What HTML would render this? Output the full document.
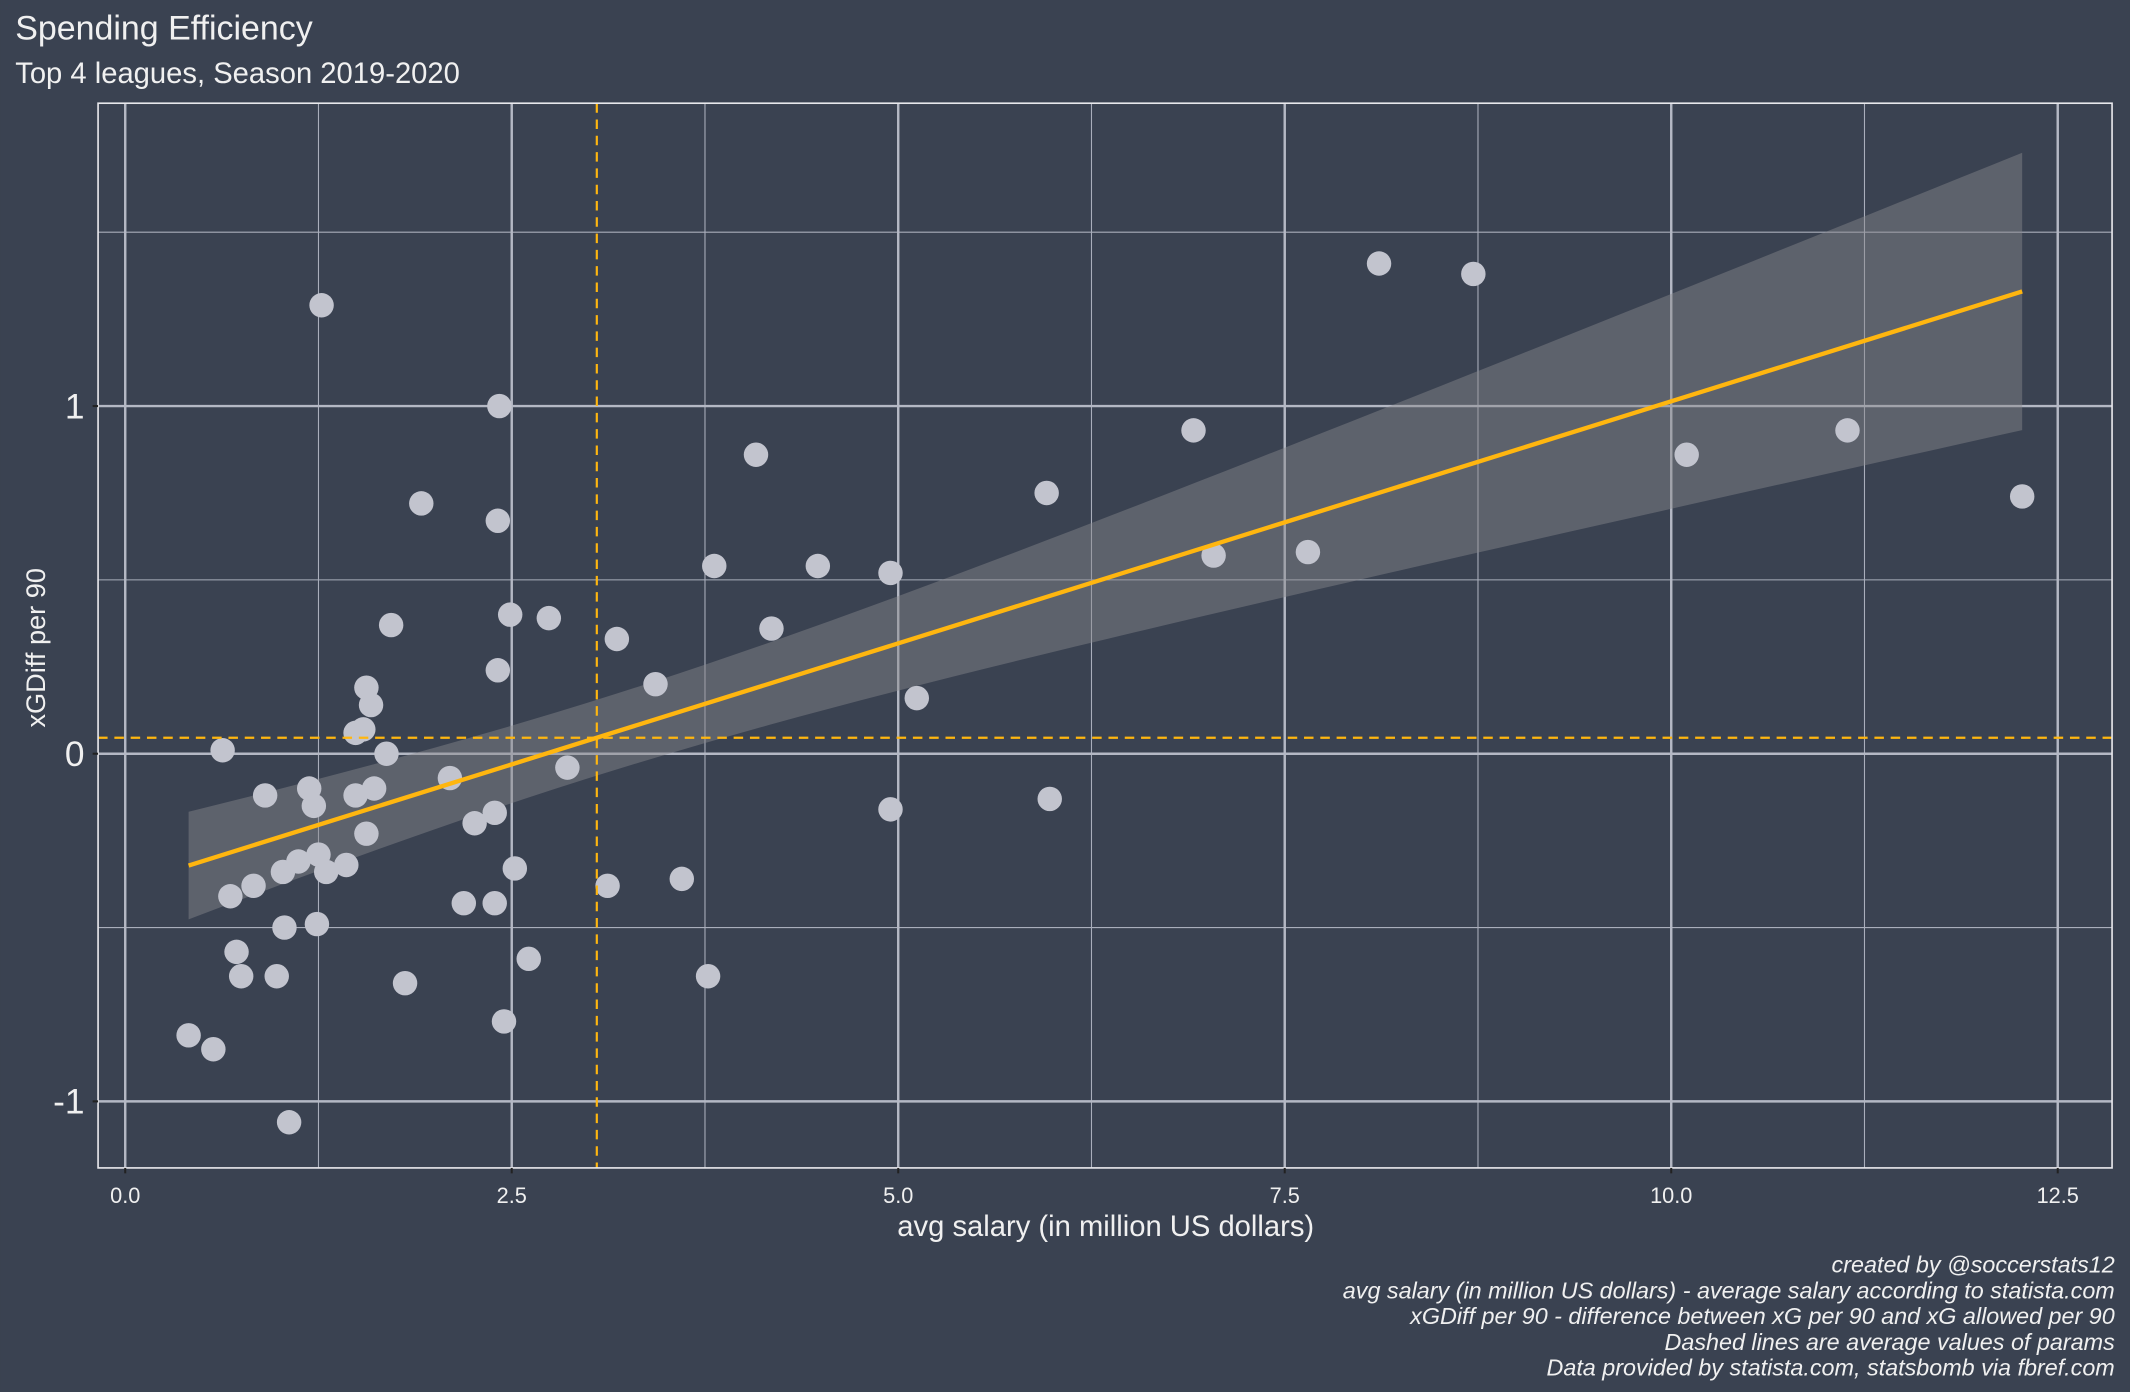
<!DOCTYPE html>
<html><head><meta charset="utf-8"><style>
html,body{margin:0;padding:0;background:#3a4251;}
svg{display:block;font-family:"Liberation Sans",sans-serif;}
</style></head><body>
<svg id="chart" width="2130" height="1392" viewBox="0 0 1568 1025" xmlns="http://www.w3.org/2000/svg">
<rect x="0" y="0" width="1568" height="1025" fill="#3a4251"/>
<text x="11" y="29" fill="#f0f0f0" font-size="25">Spending Efficiency</text>
<text x="11" y="61" fill="#f0f0f0" font-size="21.5">Top 4 leagues, Season 2019-2020</text>
<g id="grid"></g>
<g id="ribbon"></g>
<g id="points"></g>
<g id="fit"></g>
<rect x="72" y="76" width="1483" height="784" fill="none" stroke="#e8e8ec" stroke-width="1.2"/>
<g id="axes"></g>
<text x="814" y="910" text-anchor="middle" fill="#f0f0f0" font-size="21.5">avg salary (in million US dollars)</text>
<text transform="translate(33,477) rotate(-90)" text-anchor="middle" fill="#f0f0f0" font-size="20">xGDiff per 90</text>
<g fill="#f0f0f0" font-size="17.2" font-style="italic" text-anchor="end">
<text x="1557" y="937">created by @soccerstats12</text>
<text x="1557" y="956">avg salary (in million US dollars) - average salary according to statista.com</text>
<text x="1557" y="975">xGDiff per 90 - difference between xG per 90 and xG allowed per 90</text>
<text x="1557" y="994">Dashed lines are average values of params</text>
<text x="1557" y="1013">Data provided by statista.com, statsbomb via fbref.com</text>
</g>
</svg>
<script>
const salary=[1.27,2.42,1.915,2.41,4.08,1.72,2.49,2.74,2.41,3.18,3.81,4.48,4.95,4.18,3.43,5.12,5.96,6.91,7.04,7.65,8.11,8.72,10.10,11.14,12.27,4.95,5.98,0.63,1.56,1.59,1.54,1.49,1.69,2.10,2.86,0.905,1.19,1.22,1.49,1.61,2.39,2.26,1.56,1.25,1.12,1.02,1.30,1.43,2.52,0.83,0.68,3.12,3.60,2.19,2.39,1.03,1.24,0.72,0.75,0.98,2.61,1.81,3.77,2.45,0.41,0.57,1.06];
const xgdiff=[1.29,1.0,0.72,0.67,0.86,0.37,0.40,0.39,0.24,0.33,0.54,0.54,0.52,0.36,0.20,0.16,0.75,0.93,0.57,0.58,1.41,1.38,0.86,0.93,0.74,-0.16,-0.13,0.01,0.19,0.14,0.07,0.06,0.00,-0.07,-0.04,-0.12,-0.10,-0.15,-0.12,-0.10,-0.17,-0.20,-0.23,-0.29,-0.31,-0.34,-0.34,-0.32,-0.33,-0.38,-0.41,-0.38,-0.36,-0.43,-0.43,-0.50,-0.49,-0.57,-0.64,-0.64,-0.59,-0.66,-0.64,-0.77,-0.81,-0.85,-1.06];
const xTicks=[0,2.5,5,7.5,10,12.5];
const xTickLabels=["0.0","2.5","5.0","7.5","10.0","12.5"];
const yTicks=[-1,0,1];
const yTickLabels=["-1","0","1"];
const xMinor=[1.25,3.75,6.25,8.75,11.25];
const yMinor=[-0.5,0.5,1.5];

const NS="http://www.w3.org/2000/svg";
const X=v=>92+v*113.84, Y=v=>555-v*256;
const L=72,R=1555,T=76,B=860;
function mk(p,tag,a){const e=document.createElementNS(NS,tag);for(const k in a)e.setAttribute(k,a[k]);document.getElementById(p).appendChild(e);return e;}
xMinor.forEach(v=>{const e=mk('grid','line',{x1:X(v),x2:X(v),y1:T,y2:B,stroke:'#a9aebb','stroke-width':0.8});

});
yMinor.forEach(v=>{const e=mk('grid','line',{x1:L,x2:R,y1:Y(v),y2:Y(v),stroke:'#a9aebb','stroke-width':0.8});

});
xTicks.forEach((v,i)=>{const e=mk('grid','line',{x1:X(v),x2:X(v),y1:T,y2:B,stroke:'#b4b8c4','stroke-width':1.8});


const t=mk('axes','line',{x1:X(v),x2:X(v),y1:B,y2:B+4,stroke:'#222','stroke-width':1.5});


const l=mk('axes','text',{x:X(v),y:B+26,'text-anchor':'middle',fill:'#f0f0f0','font-size':16});l.textContent=xTickLabels[i];

});
yTicks.forEach((v,i)=>{const e=mk('grid','line',{x1:L,x2:R,y1:Y(v),y2:Y(v),stroke:'#b4b8c4','stroke-width':1.8});


const t=mk('axes','line',{x1:L-4,x2:L,y1:Y(v),y2:Y(v),stroke:'#222','stroke-width':1.5});


const l=mk('axes','text',{x:L-10,y:Y(v)+9,'text-anchor':'end',fill:'#f0f0f0','font-size':26});l.textContent=yTickLabels[i];

});

const n=salary.length;const mx=salary.reduce((a,b)=>a+b)/n,my=xgdiff.reduce((a,b)=>a+b)/n;
let sxx=0,sxy=0;for(let i=0;i<n;i++){sxx+=(salary[i]-mx)**2;sxy+=(salary[i]-mx)*(xgdiff[i]-my);}
const b1=sxy/sxx,b0=my-b1*mx;let sse=0;for(let i=0;i<n;i++)sse+=(xgdiff[i]-b0-b1*salary[i])**2;
const s=Math.sqrt(sse/(n-2));const xmin=Math.min(...salary),xmax=Math.max(...salary);
const up=[],lo=[];for(let k=0;k<=60;k++){const x=xmin+(xmax-xmin)*k/60;const f=b0+b1*x;const se=s*Math.sqrt(1/n+(x-mx)**2/sxx)*2.0;up.push(X(x)+','+Y(f+se));lo.unshift(X(x)+','+Y(f-se));}
const rb=mk('ribbon','polygon',{points:up.concat(lo).join(' '),fill:'#8a8a8e','fill-opacity':0.45});


salary.forEach((v,i)=>{const c=mk('points','circle',{cx:X(v),cy:Y(xgdiff[i]),r:9,fill:'#c2c4ce'});

});
const fl=mk('fit','line',{x1:X(xmin),y1:Y(b0+b1*xmin),x2:X(xmax),y2:Y(b0+b1*xmax),stroke:'#ffb60f','stroke-width':3.2});


const vl=mk('fit','line',{x1:X(mx),x2:X(mx),y1:T,y2:B,stroke:'#ffb60f','stroke-width':1.6,'stroke-dasharray':'7,5'});


const hl=mk('fit','line',{x1:L,x2:R,y1:Y(my),y2:Y(my),stroke:'#ffb60f','stroke-width':1.6,'stroke-dasharray':'7,5'});


</script>
</body></html>
